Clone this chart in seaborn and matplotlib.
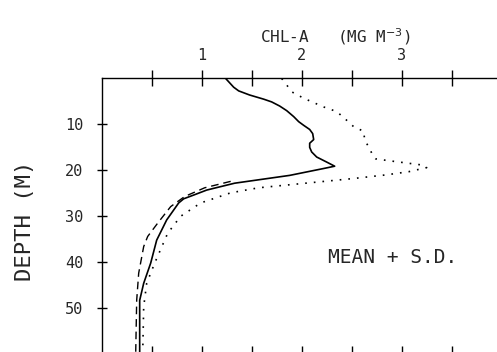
import matplotlib
matplotlib.use('Agg')
import matplotlib.pyplot as plt
import seaborn as sns
import pandas as pd

# Perfil medio de clorofila
depth_mean = [0, 1.9, 2.7, 3.6, 4.5, 5.1, 6.0, 7.0, 8.3, 9.4, 10.2, 11.1, 12.0, 13.3,
              14.1, 15.0, 16.0, 17.1, 18.2, 19.1, 19.6, 21.1, 22.8, 23.6, 24.3, 25.3,
              26.2, 27.1, 30.8, 35.2, 40.2, 44.6, 48.3, 60]
chl_mean = [1.24, 1.32, 1.37, 1.48, 1.62, 1.70, 1.78, 1.85, 1.92, 1.97, 2.02, 2.08, 2.11, 2.12,
            2.08, 2.08, 2.10, 2.15, 2.25, 2.33, 2.22, 1.88, 1.33, 1.18, 1.05, 0.93,
            0.82, 0.77, 0.65, 0.55, 0.49, 0.42, 0.38, 0.38]

# Media + desvio padrao (pontilhado)
depth_upper = [0, 1.4, 2.9, 4.3, 6.2, 7.2, 8.7, 10.5, 11.5, 13.4, 14.9, 17.1, 17.5, 17.9,
               18.8, 19.4, 20.3, 21.0, 21.8, 23.8, 24.9, 27.1, 30.0, 33.7, 40.2, 44.6,
               49.7, 60]
chl_upper = [1.80, 1.85, 1.90, 2.02, 2.22, 2.35, 2.43, 2.52, 2.62, 2.63, 2.67, 2.72, 2.74, 2.87,
             3.19, 3.25, 3.07, 2.84, 2.51, 1.57, 1.29, 0.99, 0.79, 0.66, 0.53, 0.45,
             0.42, 0.41]

# Media - desvio padrao (tracejado)
depth_lower = [22.4, 23.8, 25.7, 27.9, 31.5, 34.4, 36.6, 42.4, 48.3, 60]
chl_lower = [1.29, 1.03, 0.83, 0.69, 0.56, 0.46, 0.42, 0.37, 0.35, 0.34]

x_major = [1, 2, 3]
x_minor = [0.5, 1.5, 2.5, 3.5]
y_ticks = [10, 20, 30, 40, 50]

df_mean = pd.DataFrame({'chl': chl_mean, 'depth': depth_mean})
df_upper = pd.DataFrame({'chl': chl_upper, 'depth': depth_upper})
df_lower = pd.DataFrame({'chl': chl_lower, 'depth': depth_lower})

sns.set_theme(style='ticks')
plt.rcParams['font.family'] = ['DejaVu Sans Mono', 'DejaVu Sans']

fig = plt.figure(figsize=(4.97, 3.52), dpi=100)
ax = fig.add_axes([0.2046, -0.0057, 0.8048, 0.7827])

sns.lineplot(data=df_mean, x='chl', y='depth', orient='y', sort=False, estimator=None,
             color='black', lw=1.2, ax=ax)
sns.lineplot(data=df_upper, x='chl', y='depth', orient='y', sort=False, estimator=None,
             color='black', lw=1.2, linestyle=(0, (1, 4.2)), ax=ax)
sns.lineplot(data=df_lower, x='chl', y='depth', orient='y', sort=False, estimator=None,
             color='black', lw=1.0, linestyle=(0, (5.5, 3.5)), ax=ax)

ax.set_xlim(0, 4)
ax.set_ylim(60, 0)

for s in ax.spines.values():
    s.set_color('black')
    s.set_linewidth(1.0)

ax.set_xticks(x_major)
ax.set_xticks(x_minor, minor=True)
ax.set_xticklabels([str(v) for v in x_major])
ax.tick_params(axis='x', which='both', direction='inout', length=11.5, width=1,
               top=True, bottom=True, labeltop=True, labelbottom=False,
               color='black', pad=5.5, labelsize=11)

ax.set_yticks(y_ticks)
ax.set_yticklabels([str(v) for v in y_ticks])
ax.tick_params(axis='y', direction='inout', length=6.5, width=1, left=True, right=False,
               color='black', pad=10, labelsize=11)

ax.set_xlabel('CHL-A   (MG M$^{-3}$)', fontsize=11.5)
ax.xaxis.set_label_position('top')
ax.xaxis.set_label_coords(0.583, 1.129)
ax.xaxis.label.set_va('baseline')

ax.set_ylabel('DEPTH (M)', fontsize=16)
ax.yaxis.set_label_coords(-0.192, 0.483)
ax.yaxis.label.set_va('center')
ax.yaxis.label.set_ha('center')

ax.text(0.728, 0.352, 'MEAN + S.D.', transform=ax.transAxes, ha='center', va='center',
        fontsize=14)

fig.savefig('out.png', dpi=100)
